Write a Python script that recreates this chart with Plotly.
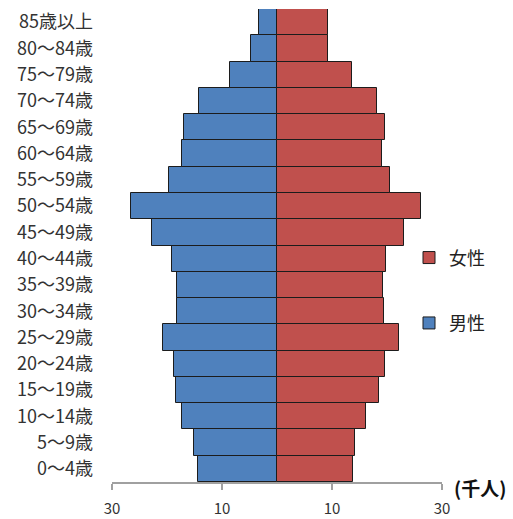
import plotly.graph_objects as go

# 年齢階級（下から上へ）
age_groups = [
    "0～4歳", "5～9歳", "10～14歳", "15～19歳", "20～24歳", "25～29歳",
    "30～34歳", "35～39歳", "40～44歳", "45～49歳", "50～54歳", "55～59歳",
    "60～64歳", "65～69歳", "70～74歳", "75～79歳", "80～84歳", "85歳以上",
]

# 人口（千人）
male = [14.3, 15.1, 17.3, 18.4, 18.7, 20.8, 18.1, 18.1, 19.1, 22.7,
        26.5, 19.7, 17.2, 16.9, 14.1, 8.5, 4.7, 3.3]
female = [13.9, 14.2, 16.1, 18.5, 19.6, 22.1, 19.4, 19.3, 19.8, 23.1,
          26.2, 20.5, 19.0, 19.6, 18.2, 13.6, 9.2, 9.3]

# x軸目盛（左右とも絶対値表示）
x_tickvals = [-30, -10, 10, 30]
x_ticktext = ["30", "10", "10", "30"]

FONT = "Noto Sans CJK JP"
BLUE = "#4F81BD"
RED = "#C0504D"
OUTLINE = "#1c1c1c"
AXIS_GRAY = "#a0a0a0"
TEXT = "#333333"

fig = go.Figure()

fig.add_trace(go.Bar(
    y=age_groups,
    x=[-v for v in male],
    orientation="h",
    name="男性",
    legendgroup="m",
    legendrank=2,
    marker=dict(color=BLUE, line=dict(color=OUTLINE, width=1)),
))
fig.add_trace(go.Bar(
    y=age_groups,
    x=female,
    orientation="h",
    name="女性",
    legendgroup="f",
    legendrank=1,
    marker=dict(color=RED, line=dict(color=OUTLINE, width=1)),
))

fig.update_layout(
    width=513,
    height=519,
    margin=dict(l=112, r=71, t=9, b=37, autoexpand=False),
    paper_bgcolor="white",
    plot_bgcolor="white",
    barmode="relative",
    bargap=0,
    font=dict(family=FONT, color=TEXT),
    xaxis=dict(
        range=[-30, 30],
        tickvals=x_tickvals,
        ticktext=x_ticktext,
        automargin=False,
        showline=True,
        linecolor=AXIS_GRAY,
        linewidth=1.5,
        ticks="outside",
        ticklen=6,
        tickwidth=1.5,
        tickcolor=AXIS_GRAY,
        showgrid=False,
        zeroline=False,
        tickfont=dict(size=15, color=TEXT),
        ticklabelstandoff=6,
    ),
    yaxis=dict(
        type="category",
        categoryorder="array",
        categoryarray=age_groups,
        range=[-0.5, len(age_groups) - 0.5],
        automargin=False,
        anchor="free",
        position=0,
        showline=False,
        ticks="",
        showgrid=False,
        zeroline=False,
        tickfont=dict(size=18, color=TEXT),
        ticklabelstandoff=19,
    ),
    # 中央の縦軸線と区切り目盛
    yaxis2=dict(
        overlaying="y",
        anchor="free",
        position=0.5,
        side="left",
        automargin=False,
        range=[-0.5, len(age_groups) - 0.5],
        tickmode="linear",
        tick0=-0.5,
        dtick=1,
        ticks="outside",
        ticklen=5,
        tickcolor="#808080",
        showticklabels=False,
        showline=True,
        linecolor="#808080",
        linewidth=2,
        showgrid=False,
        zeroline=False,
    ),
    legend=dict(
        x=0.9,
        y=0.513,
        xanchor="left",
        yanchor="top",
        traceorder="grouped",
        tracegroupgap=39,
        bgcolor="rgba(0,0,0,0)",
        font=dict(size=18, color="#222222"),
    ),
    annotations=[
        dict(
            text="(千人)",
            xref="paper", yref="paper",
            x=1.0 + 66 / 330, y=-6 / 473,
            xanchor="right", yanchor="middle",
            showarrow=False,
            font=dict(size=19, color="#111111", family=FONT, weight="bold"),
        )
    ],
)

fig.write_html("out.html")
